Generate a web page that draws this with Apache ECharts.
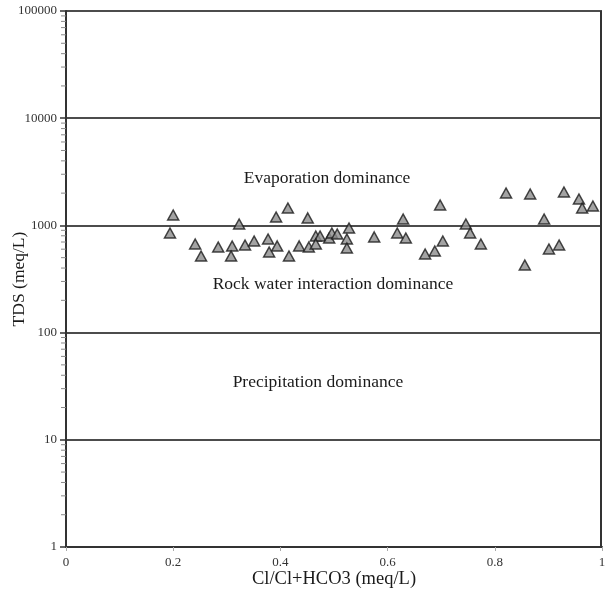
<!DOCTYPE html>
<html>
<head>
<meta charset="utf-8">
<script src="https://cdn.jsdelivr.net/npm/echarts@6/dist/echarts.min.js"></script>
<style>
  html, body { margin: 0; padding: 0; background: #fff; }
  #chart { width: 605px; height: 594px; }
</style>
</head>
<body>
<div id="chart"></div>
<script>
// Gibbs diagram: Cl/(Cl+HCO3) ratio against TDS
const ratio = [
  0.20, 0.194, 0.241, 0.252, 0.284, 0.310, 0.308, 0.323, 0.334, 0.351,
  0.392, 0.414, 0.451, 0.377, 0.394, 0.379, 0.416, 0.435, 0.453, 0.466,
  0.474, 0.466, 0.491, 0.496, 0.506, 0.528, 0.524, 0.524, 0.698, 0.629,
  0.575, 0.618, 0.634, 0.703, 0.688, 0.670, 0.746, 0.754, 0.774, 0.821,
  0.866, 0.892, 0.856, 0.901, 0.920, 0.929, 0.957, 0.963, 0.983
];
const tds = [
  1250, 849, 670, 518, 629, 642, 518, 1030, 656, 715,
  1198, 1453, 1173, 747, 643, 565, 518, 643, 629, 796,
  796, 670, 763, 849, 831, 946, 747, 615, 1550, 1147,
  780, 849, 763, 715, 577, 541, 1030, 849, 670, 2005,
  1963, 1147, 427, 602, 656, 2050, 1763, 1453, 1517
];
const xTicks = [0, 0.2, 0.4, 0.6, 0.8, 1];
const yTicks = [1, 10, 100, 1000, 10000, 100000];
const zoneNames = ['Evaporation dominance', 'Rock water interaction dominance', 'Precipitation dominance'];
const zoneX = [0.487, 0.498, 0.470];
const zoneY = [2770, 284, 34.6];

const points = ratio.map((r, i) => [r, tds[i]]);

// minor ticks at 2..9 of each decade
const minorVals = [];
for (let d = 0; d < yTicks.length - 1; d++) {
  for (let m = 2; m <= 9; m++) minorVals.push([0, m * yTicks[d]]);
}

const serif = '"Liberation Serif", "DejaVu Serif", serif';

const chart = echarts.init(document.getElementById('chart'));
chart.setOption({
  animation: false,
  backgroundColor: '#fff',
  grid: { left: 66, right: 3, top: 11, bottom: 47, containLabel: false, outerBoundsMode: 'none' },
  xAxis: {
    type: 'value', min: 0, max: 1, interval: 0.2,
    name: 'Cl/Cl+HCO3 (meq/L)', nameLocation: 'middle', nameGap: 23, nameMoveOverlap: false,
    nameTextStyle: { fontFamily: serif, fontSize: 18.5, color: '#1a1a1a' },
    axisLine: { show: true, onZero: false, lineStyle: { color: '#333', width: 2 } },
    axisTick: { show: true, length: 4, lineStyle: { color: '#aaa' } },
    axisLabel: {
      fontFamily: serif, fontSize: 13, color: '#333', margin: 9,
      formatter: v => (xTicks.indexOf(v) >= 0 ? String(v) : '')
    },
    splitLine: { show: false }
  },
  yAxis: {
    type: 'log', logBase: 10, min: 1, max: 100000,
    name: 'TDS (meq/L)', nameLocation: 'middle', nameGap: 38, nameMoveOverlap: false,
    nameTextStyle: { fontFamily: serif, fontSize: 17.5, color: '#1a1a1a' },
    axisLine: { show: true, lineStyle: { color: '#333', width: 2 } },
    axisTick: { show: true, length: 6, lineStyle: { color: '#333', width: 1.5 } },
    axisLabel: {
      fontFamily: serif, fontSize: 13, color: '#333', margin: 9,
      formatter: v => String(v)
    },
    splitLine: { show: true, lineStyle: { color: '#111', width: 1.5 } }
  },
  series: [
    {
      // right-hand frame edge
      type: 'custom',
      silent: true,
      data: [[1, 1]],
      renderItem: (params, api) => {
        const a = api.coord([1, 1]);
        const b = api.coord([1, 100000]);
        return { type: 'line', shape: { x1: a[0] - 1, y1: a[1], x2: b[0] - 1, y2: b[1] },
                 style: { stroke: '#333', lineWidth: 2 } };
      }
    },
    {
      // logarithmic minor ticks on the TDS axis
      type: 'custom',
      silent: true,
      data: minorVals,
      renderItem: (params, api) => {
        const p = api.coord([0, api.value(1)]);
        return { type: 'line', shape: { x1: p[0] - 5, y1: p[1], x2: p[0], y2: p[1] },
                 style: { stroke: '#888', lineWidth: 1 } };
      }
    },
    {
      type: 'scatter',
      data: points,
      symbol: 'triangle',
      symbolSize: [11, 10],
      itemStyle: { color: '#8c8c8c', borderColor: '#1a1a1a', borderWidth: 1.5 },
      z: 5
    },
    {
      // zone captions
      type: 'custom',
      silent: true,
      data: zoneNames.map((n, i) => [zoneX[i], zoneY[i], i]),
      renderItem: (params, api) => {
        const p = api.coord([api.value(0), api.value(1)]);
        return { type: 'text', x: p[0], y: p[1],
                 style: { text: zoneNames[api.value(2)], fill: '#1a1a1a',
                          font: '17.5px ' + serif, align: 'center', verticalAlign: 'middle' } };
      },
      z: 6
    }
  ]
});
</script>
</body>
</html>
